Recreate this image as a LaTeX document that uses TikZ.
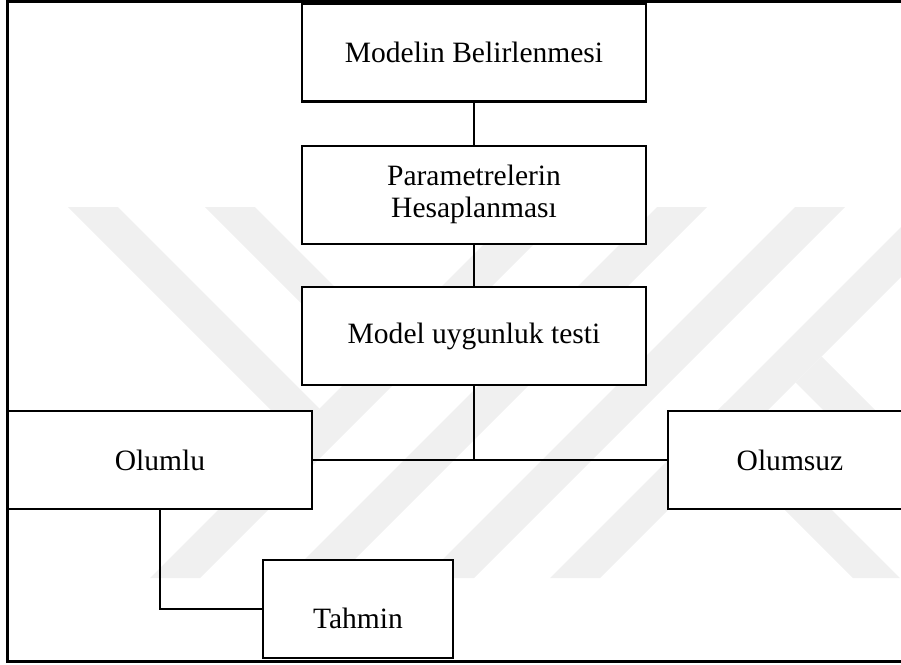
\documentclass[tikz,border=0pt]{standalone}
\usepackage{fontspec}
\setmainfont{Liberation Serif}
\usetikzlibrary{positioning}

\begin{document}
\begin{tikzpicture}[x=0.02cm, y=-0.02cm,
        box/.style={draw, line width=1.3pt, fill=white, minimum width=6.88cm, minimum height=1.96cm,
            inner sep=0pt, align=center, font=\fontsize{16.8}{18.2}\selectfont},
        link/.style={line width=1.2pt},
        frame/.style={line width=1.7pt},
        stripe/.style={fill=black!6}]
        \useasboundingbox (0,0) rectangle (901,664);
        \clip (0,0) rectangle (901,664);

        \begin{scope}
            \clip (0,207) rectangle (901,578);
            \fill[stripe] (68,207) -- (118,207) -- (319.5,408.5) -- (294.5,433.5) -- cycle;
            \fill[stripe] (205,207) -- (255,207) -- (388,340) -- (363,365) -- cycle;
            \fill[stripe] (150,578) -- (200,578) -- (571,207) -- (521,207) -- cycle;
            \fill[stripe] (286,578) -- (336,578) -- (707,207) -- (657,207) -- cycle;
            \fill[stripe] (424,578) -- (474,578) -- (845,207) -- (795,207) -- cycle;
            \fill[stripe] (550,578) -- (600,578) -- (971,207) -- (921,207) -- cycle;
            \fill[stripe] (725,403) -- (900,578) -- (853,578) -- (701.5,426.5) -- cycle;
            \fill[stripe] (821.5,356.5) -- (1043,578) -- (991,578) -- (795.5,382.5) -- cycle;
        \end{scope}

        \node[box] (mod) at (474,52.5) {Modelin Belirlenmesi};
        \node[box] (par) [below = 0.84cm of mod] {Parametrelerin\\Hesaplanması};
        \node[box] (uyg) [below = 0.82cm of par] {Model uygunluk testi};
        \node[box, minimum width=6.08cm] (olumlu) at (160,460) {Olumlu};
        \node[box, minimum width=4.88cm] (olumsuz) at (790,460) {Olumsuz};
        \node[box, minimum width=3.8cm, text height=0.76cm, text depth=0pt] (tahmin) at (358,609) {Tahmin};

        \draw[link] (mod) -- (par);
        \draw[link] (par) -- (uyg);
        \draw[link] (uyg.south) -- (uyg.south |- olumlu.east);
        \draw[link] (olumlu) -- (olumsuz);
        \draw[link] (olumlu.south) |- (tahmin.west);

        \draw[frame] (901,1.5) -| (7.5,661.5) -- (901,661.5);
    \end{tikzpicture}
\end{document}
